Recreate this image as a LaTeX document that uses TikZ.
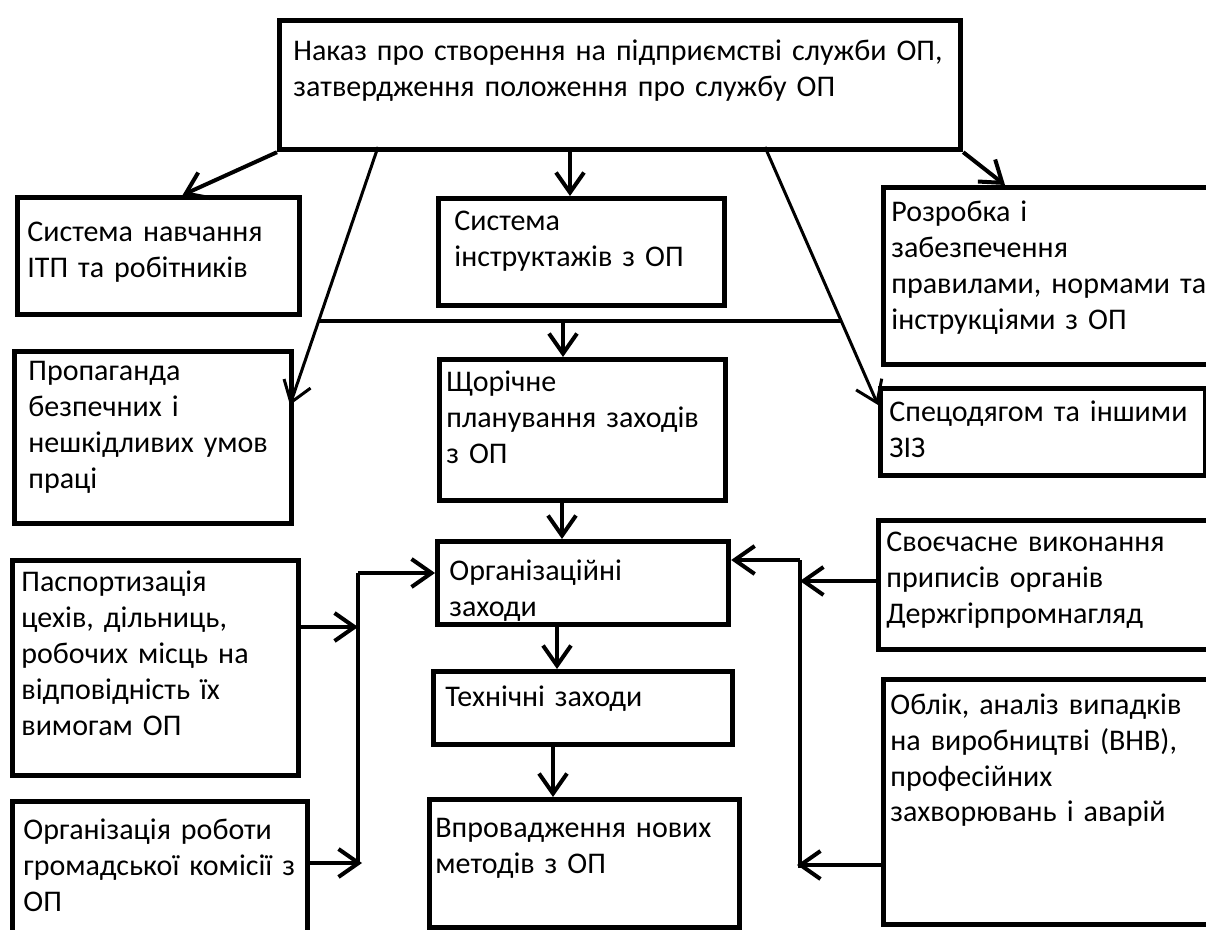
\documentclass[tikz,border=0pt]{standalone}
\usepackage{fontspec}
\setmainfont{Carlito}
\usetikzlibrary{positioning,calc,arrows.meta}

\tikzset{
  blk/.style={draw, line width=2.6pt, inner sep=0pt, anchor=north west},
  txt/.style={anchor=base west, align=left, inner sep=0pt, text width=175pt,
    font=\fontsize{15}{18}\selectfont},
  arr/.style={line width=2pt, -{Straight Barb[length=10pt,width=14pt]}},
  slant/.style={line width=1.5pt},
  bar/.style={line width=2pt},
}

\begin{document}
\begin{tikzpicture}[x=0.5pt,y=-0.5pt]
  \fill[white] (0,0) rectangle (1206,930);
  \useasboundingbox (0,0) rectangle (1206,930);
  \clip (0,0) rectangle (1206,930);

  % boxes
  \node[blk, minimum width=340.5pt, minimum height=64.5pt] (top) at (277,18) {};
  \node[txt, text width=330pt] (topt) at (293,61) {Наказ про створення на підприємстві служби ОП,\\затвердження положення про службу ОП};

  \node[blk, minimum width=141pt, minimum height=58.5pt] (navch) at (15,195) {};
  \node[txt] (navcht) at (27,242) {Система навчання\\ІТП та робітників};

  \node[blk, minimum width=143pt, minimum height=53.5pt] (instr) at (436,196) {};
  \node[txt] (instrt) at (454,231) {Система\\інструктажів з ОП};

  \node[blk, minimum width=170pt, minimum height=88.5pt] (rozr) at (881,185) {};
  \node[txt] (rozrt) at (891,222) {Розробка і\\забезпечення\\правилами, нормами та\\інструкціями з ОП};

  \node[blk, minimum width=138.5pt, minimum height=86pt] (prop) at (12,349) {};
  \node[txt] (propt) at (28,381) {Пропаганда\\безпечних і\\нешкідливих умов\\праці};

  \node[blk, minimum width=143pt, minimum height=70.5pt] (plan) at (437,357) {};
  \node[txt] (plant) at (446,392) {Щорічне\\планування заходів\\з ОП};

  \node[blk, minimum width=162.5pt, minimum height=43.5pt] (spec) at (878,386) {};
  \node[txt] (spect) at (889,422) {Спецодягом та іншими\\ЗІЗ};

  \node[blk, minimum width=145.5pt, minimum height=41.5pt] (org) at (435,539) {};
  \node[txt] (orgt) at (449,581) {Організаційні\\заходи};

  \node[blk, minimum width=143pt, minimum height=107.5pt] (pasp) at (10,558) {};
  \node[txt] (paspt) at (21,592) {Паспортизація\\цехів, дільниць,\\робочих місць на\\відповідність їх\\вимогам ОП};

  \node[blk, minimum width=170pt, minimum height=64.5pt] (prip) at (876,518) {};
  \node[txt] (pript) at (886,552) {Своєчасне виконання\\приписів органів\\Держгірпромнагляд};

  \node[blk, minimum width=149.5pt, minimum height=36.5pt] (tekh) at (431,669) {};
  \node[txt] (tekht) at (445,706) {Технічні заходи};

  \node[blk, minimum width=170pt, minimum height=122.5pt] (oblik) at (881,677) {};
  \node[txt] (oblikt) at (890,714) {Облік, аналіз випадків\\на виробництві (ВНВ),\\професійних\\захворювань і аварій};

  \node[blk, minimum width=155pt, minimum height=64pt] (vpr) at (427,797) {};
  \node[txt] (vprt) at (435,837) {Впровадження нових\\методів з ОП};

  \node[blk, minimum width=147.5pt, minimum height=75pt] (gromk) at (10,799) {};
  \node[txt] (gromkt) at (23,839) {Організація роботи\\громадської комісії з\\ОП};

  % connector points
  \coordinate (sL) at (378,147);
  \coordinate (sR) at (765,147);
  \coordinate (eL) at (290,405);
  \coordinate (eR) at (878,405);
  \coordinate (bL) at ($(sL)!0.673!(eL)$);
  \coordinate (bR) at ($(sR)!0.673!(eR)$);
  \coordinate (bM) at (563,320);
  \coordinate (busL) at (358,573);
  \coordinate (busLb) at (358,863);
  \coordinate (busR) at (800,560);
  \coordinate (busRb) at (800,868);

  % arrows from the top box
  \draw[arr] (top.south west) -- ($(navch.north)+(24,0)$);
  \draw[arr] (top.south -| 570,0) -- (instr.north -| 570,0);
  \draw[arr] (top.south east) -- ($(rozr.north west)+(124,0)$);
  \draw[slant,-{Straight Barb[length=10pt,width=14pt]}] (sL) -- (eL);
  \draw[slant,-{Straight Barb[length=10pt,width=14pt]}] (sR) -- (eR);
  \draw[bar] (bL) -- (bR);
  \draw[arr] (bM) -- (plan.north -| bM);

  % middle column
  \draw[arr] (plan.south -| 562,0) -- (org.north -| 562,0);
  \draw[arr] (org.south -| 557,0) -- (tekh.north -| 557,0);
  \draw[arr] (tekh.south -| 553,0) -- (vpr.north -| 553,0);

  % left bus
  \draw[bar] (busLb) -- (busL);
  \draw[arr] (busL) -- (org.west |- busL);
  \draw[arr] (pasp.east |- 0,627) -- (busL |- 0,627);
  \draw[arr] (gromk.east |- busLb) -- ($(busLb)+(4,0)$);

  % right bus
  \draw[bar] (busRb) -- (busR);
  \draw[arr] (busR) -- (org.east |- busR);
  \draw[arr] (prip.west |- 0,581) -- (busR |- 0,581);
  \draw[arr] (oblik.west |- 0,865) -- ($(busR |- 0,865)+(-3,0)$);
\end{tikzpicture}
\end{document}
